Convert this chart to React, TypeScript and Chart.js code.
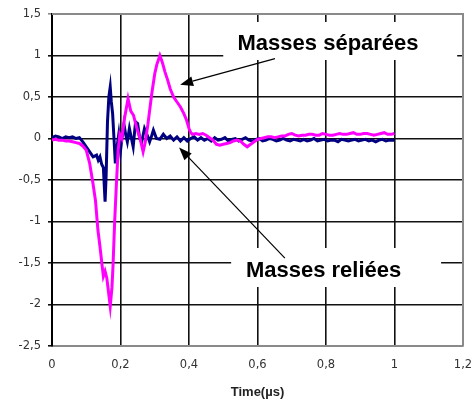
import React, { useEffect, useRef } from "react";
import { Chart, registerables } from "chart.js";

Chart.register(...registerables);

// Time (µs) and values for "Masses séparées" (magenta)
const timeSeparees = [
  0, 0.01, 0.02, 0.03, 0.04, 0.05, 0.06, 0.07, 0.08, 0.09, 0.1, 0.11, 0.12, 0.127, 0.134, 0.14, 0.146,
  0.15, 0.155, 0.16, 0.165, 0.17, 0.175, 0.178, 0.183, 0.188, 0.193, 0.198, 0.204, 0.212, 0.222, 0.23,
  0.238, 0.248, 0.257, 0.266, 0.272, 0.28, 0.287, 0.292, 0.3, 0.306, 0.315, 0.322, 0.33, 0.338, 0.345,
  0.355, 0.365, 0.375, 0.385, 0.393, 0.4, 0.405, 0.41, 0.42, 0.43, 0.44, 0.45, 0.46, 0.47, 0.48, 0.49,
  0.5, 0.51, 0.52, 0.53, 0.54, 0.55, 0.56, 0.57, 0.58, 0.59, 0.6, 0.61, 0.62, 0.63, 0.64, 0.65, 0.66,
  0.67, 0.68, 0.69, 0.7, 0.71, 0.72, 0.73, 0.74, 0.75, 0.76, 0.77, 0.78, 0.79, 0.8, 0.81, 0.82, 0.83,
  0.84, 0.85, 0.86, 0.87, 0.88, 0.89, 0.9, 0.91, 0.92, 0.93, 0.94, 0.95, 0.96, 0.97, 0.98, 0.99, 1.0,
];
const valuesSeparees = [
  -0.02, -0.01, -0.02, -0.02, -0.03, -0.03, -0.04, -0.05, -0.06, -0.09, -0.14, -0.3, -0.55, -0.75, -1.1, -1.3, -1.52,
  -1.66, -1.6, -1.68, -1.85, -2.02, -1.8, -1.55, -1.0, -0.55, -0.15, 0.05, 0.0, 0.25, 0.48, 0.33,
  0.28, 0.12, 0.0, -0.16, -0.05, 0.17, 0.4, 0.56, 0.78, 0.89, 1.0, 0.92, 0.8, 0.7, 0.6,
  0.5, 0.44, 0.38, 0.3, 0.22, 0.12, 0.07, 0.05, 0.06, 0.05, 0.06, 0.04, 0.01, -0.02, -0.07, -0.08,
  -0.07, -0.06, -0.05, -0.03, -0.02, -0.03, -0.07, -0.1, -0.07, -0.04, -0.01, 0.0, 0.01, 0.02, 0.02, 0.01, 0.02,
  0.03, 0.03, 0.05, 0.06, 0.04, 0.03, 0.04, 0.04, 0.05, 0.05, 0.04, 0.04, 0.06, 0.05, 0.04, 0.04, 0.05,
  0.06, 0.05, 0.05, 0.06, 0.07, 0.05, 0.05, 0.06, 0.06, 0.05, 0.04, 0.05, 0.06, 0.07, 0.05, 0.05, 0.06,
];

// Time (µs) and values for "Masses reliées" (navy)
const timeReliees = [
  0, 0.01, 0.02, 0.03, 0.04, 0.05, 0.06, 0.07, 0.08, 0.09, 0.1, 0.11, 0.12, 0.13, 0.135, 0.14, 0.145,
  0.15, 0.155, 0.158, 0.162, 0.166, 0.17, 0.173, 0.177, 0.181, 0.185, 0.19, 0.195, 0.2, 0.204, 0.21,
  0.215, 0.22, 0.226, 0.232, 0.237, 0.244, 0.25, 0.256, 0.262, 0.27, 0.277, 0.285, 0.29, 0.296,
  0.305, 0.315, 0.325, 0.335, 0.345, 0.355, 0.365, 0.375, 0.385, 0.395, 0.405, 0.415, 0.425, 0.435,
  0.445, 0.455, 0.465, 0.475, 0.485, 0.495, 0.505, 0.515, 0.525, 0.535, 0.545, 0.555, 0.565, 0.575,
  0.585, 0.595, 0.605, 0.615, 0.625, 0.635, 0.645, 0.655, 0.665, 0.675, 0.685, 0.695, 0.705, 0.715,
  0.725, 0.735, 0.745, 0.755, 0.765, 0.775, 0.785, 0.795, 0.805, 0.815, 0.825, 0.835, 0.845, 0.855,
  0.865, 0.875, 0.885, 0.895, 0.905, 0.915, 0.925, 0.935, 0.945, 0.955, 0.965, 0.975, 0.985, 1.0,
];
const valuesReliees = [
  0.01, 0.03, 0.02, 0.0, 0.02, 0.01, 0.02, 0.0, 0.01, -0.04, -0.1, -0.16, -0.22, -0.2, -0.26, -0.22, -0.31,
  -0.35, -0.76, -0.45, 0.2, 0.5, 0.62, 0.45, 0.3, 0.0, -0.3, -0.1, 0.05, -0.15, 0.0, 0.17,
  0.05, -0.04, 0.12, 0.0, -0.1, 0.2, 0.18, 0.0, -0.04, 0.12, 0.05, -0.04, 0.02, 0.1,
  0.0, -0.01, 0.05, 0.0, 0.03, -0.02, 0.02, -0.03, 0.01, -0.03, 0.0, 0.02, -0.02, 0.01,
  -0.02, 0.0, -0.03, 0.01, -0.02, -0.01, 0.01, -0.03, -0.01, 0.0, -0.03, -0.01, 0.01, -0.02,
  -0.03, -0.01, 0.0, -0.03, -0.02, 0.0, -0.01, -0.03, -0.02, 0.0, -0.02, -0.03, -0.01, -0.02,
  -0.03, -0.01, -0.03, -0.02, 0.0, -0.03, -0.02, -0.01, -0.03, -0.02, -0.02, -0.04, -0.01, -0.02,
  -0.03, -0.02, -0.01, -0.03, -0.02, -0.01, -0.03, -0.02, -0.04, -0.02, -0.01, -0.03, -0.02, -0.02,
];

const xTicks = { min: 0, max: 1.2, step: 0.2 };
const yTicks = { min: -2.5, max: 1.5, step: 0.5 };
const xTitle = "Time(µs)";

// Annotations: label text, white box extent and arrow (start -> tip), in data units
const labels = [
  {
    text: "Masses séparées",
    x: 0.806,
    y: 1.066,
    box: [0.5, 1.404, 1.183, 0.946],
    arrow: [0.651, 0.962, 0.374, 0.649],
  },
  {
    text: "Masses reliées",
    x: 0.793,
    y: -1.669,
    box: [0.523, -1.319, 1.136, -1.789],
    arrow: [0.68, -1.442, 0.371, -0.108],
  },
];

const fmt = (v: number) => String(Math.round(v * 10) / 10).replace(".", ",");

const annotationPlugin = {
  id: "annots",
  afterDatasetsDraw(chart: any) {
    const { ctx, scales, chartArea } = chart;
    const xs = scales.x;
    const ys = scales.y;
    ctx.save();
    // top and right border
    ctx.strokeStyle = "#8a8a8a";
    ctx.lineWidth = 2;
    ctx.beginPath();
    ctx.moveTo(chartArea.left, chartArea.top);
    ctx.lineTo(chartArea.right, chartArea.top);
    ctx.lineTo(chartArea.right, chartArea.bottom);
    ctx.stroke();
    for (const l of labels) {
      const [bx0, by0, bx1, by1] = l.box;
      const x0 = xs.getPixelForValue(bx0);
      const x1 = xs.getPixelForValue(bx1);
      const y0 = ys.getPixelForValue(by0);
      const y1 = ys.getPixelForValue(by1);
      ctx.fillStyle = "#ffffff";
      ctx.fillRect(x0, y0, x1 - x0, y1 - y0);
      ctx.fillStyle = "#000000";
      ctx.font = "bold 22px 'Liberation Sans', Arial, sans-serif";
      ctx.textAlign = "center";
      ctx.textBaseline = "alphabetic";
      ctx.fillText(l.text, xs.getPixelForValue(l.x), ys.getPixelForValue(l.y));
      const [ax0, ay0, ax1, ay1] = l.arrow;
      const sx = xs.getPixelForValue(ax0);
      const sy = ys.getPixelForValue(ay0);
      const tx = xs.getPixelForValue(ax1);
      const ty = ys.getPixelForValue(ay1);
      const ang = Math.atan2(ty - sy, tx - sx);
      const len = 13;
      const half = 5;
      const bxp = tx - len * Math.cos(ang);
      const byp = ty - len * Math.sin(ang);
      ctx.strokeStyle = "#000000";
      ctx.lineWidth = 1.2;
      ctx.beginPath();
      ctx.moveTo(sx, sy);
      ctx.lineTo(bxp, byp);
      ctx.stroke();
      ctx.beginPath();
      ctx.moveTo(tx, ty);
      ctx.lineTo(bxp + half * Math.sin(ang), byp - half * Math.cos(ang));
      ctx.lineTo(bxp - half * Math.sin(ang), byp + half * Math.cos(ang));
      ctx.closePath();
      ctx.fill();
    }
    ctx.restore();
  },
};

export default function App() {
  const ref = useRef<HTMLCanvasElement | null>(null);
  useEffect(() => {
    if (!ref.current) return;
    const chart = new Chart(ref.current, {
      type: "line",
      data: {
        datasets: [
          {
            label: "Masses séparées",
            data: timeSeparees.map((t, i) => ({ x: t, y: valuesSeparees[i] })),
            borderColor: "#ff00ff",
            backgroundColor: "#ff00ff",
            borderWidth: 3,
            pointRadius: 0,
            tension: 0,
          },
          {
            label: "Masses reliées",
            data: timeReliees.map((t, i) => ({ x: t, y: valuesReliees[i] })),
            borderColor: "#000080",
            backgroundColor: "#000080",
            borderWidth: 3,
            pointRadius: 0,
            tension: 0,
          },
        ],
      },
      options: {
        responsive: false,
        animation: false,
        layout: { padding: { left: 0, top: 14, right: 12, bottom: 0 } },
        plugins: { legend: { display: false }, tooltip: { enabled: false } },
        scales: {
          x: {
            type: "linear",
            min: xTicks.min,
            max: xTicks.max,
            afterFit: (s: any) => {
              s.height = 57;
              s.paddingLeft = 0;
              s.paddingRight = 0;
            },
            ticks: {
              stepSize: xTicks.step,
              callback: (v: any) => fmt(Number(v)),
              font: { family: "'DejaVu Sans'", size: 11.5 },
              color: "#333333",
              padding: 12,
              maxRotation: 0,
            },
            grid: {
              color: (c: any) => (c.tick && Math.abs(c.tick.value - xTicks.max) < 1e-6 ? "#8a8a8a" : "#111111"),
              lineWidth: 1.6,
              drawTicks: false,
            },
            border: { color: "#8a8a8a", width: 2 },
            title: {
              display: true,
              text: xTitle,
              font: { family: "'Liberation Sans', Arial", size: 13, weight: "bold" },
              color: "#222222",
              padding: { top: 0, bottom: 3 },
            },
          },
          y: {
            type: "linear",
            min: yTicks.min,
            max: yTicks.max,
            afterFit: (s: any) => {
              s.width = 52;
              s.paddingTop = 0;
              s.paddingBottom = 0;
            },
            ticks: {
              stepSize: yTicks.step,
              callback: (v: any) => fmt(Number(v)),
              font: { family: "'DejaVu Sans'", size: 11.5 },
              color: "#333333",
              padding: 7,
            },
            grid: {
              color: (c: any) => (c.tick && Math.abs(c.tick.value - yTicks.max) < 1e-6 ? "#8a8a8a" : "#111111"),
              lineWidth: 1.6,
              tickLength: 4,
            },
            border: { color: "#000000", width: 2 },
          },
        },
      },
      plugins: [annotationPlugin],
    });
    return () => chart.destroy();
  }, []);
  return (
    <div style={{ position: "absolute", left: 0, top: 0, width: 475, height: 403, background: "#fff" }}>
      <canvas ref={ref} width={475} height={403} />
    </div>
  );
}
